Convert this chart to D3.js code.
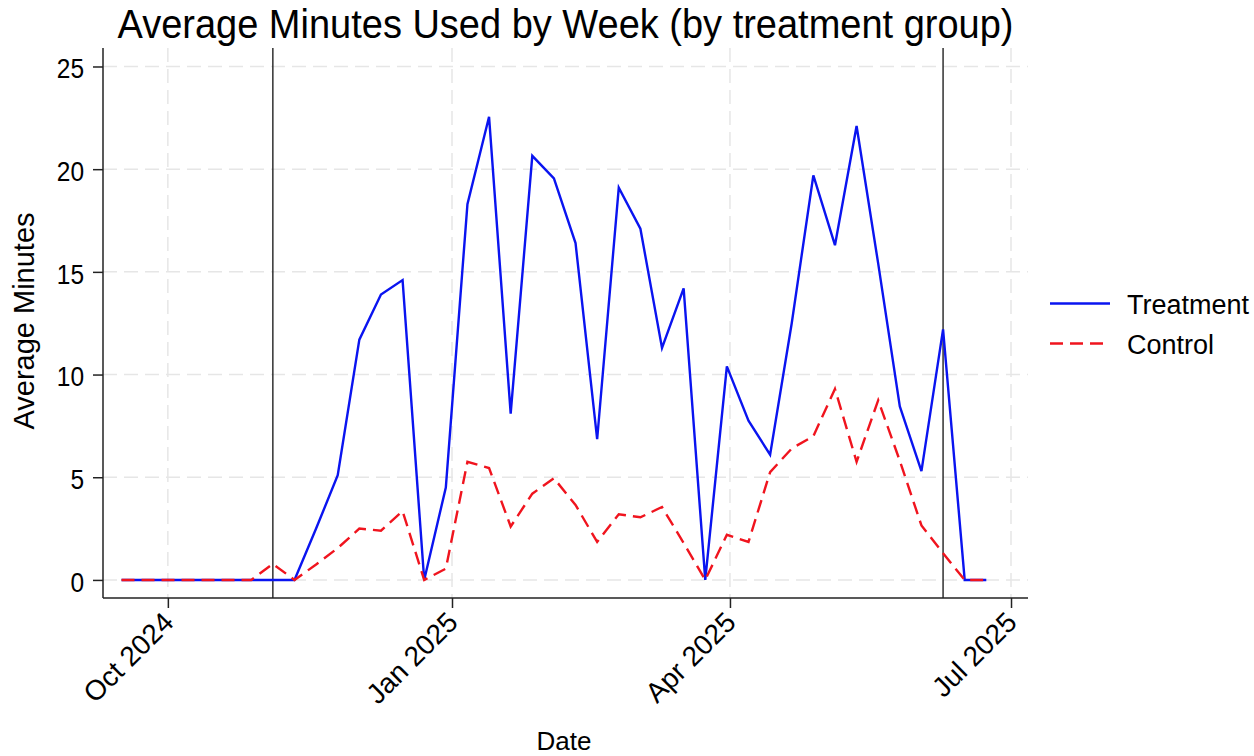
<!DOCTYPE html>
<html>
<head>
<meta charset="utf-8">
<script src="https://cdnjs.cloudflare.com/ajax/libs/d3/7.8.5/d3.min.js"></script>
<style>
  body { margin: 0; background: #fff; }
  text { font-family: "Liberation Sans", Arial, Helvetica, sans-serif; fill: #000; }
</style>
</head>
<body>
<div id="chart"></div>
<script>
'use strict';

// weekly dates
var weeks = [
  '2024-09-16', '2024-09-23', '2024-09-30', '2024-10-07', '2024-10-14', '2024-10-21', '2024-10-28',
  '2024-11-04', '2024-11-11', '2024-11-18', '2024-11-25', '2024-12-02', '2024-12-09', '2024-12-16',
  '2024-12-23', '2024-12-30', '2025-01-06', '2025-01-13', '2025-01-20', '2025-01-27', '2025-02-03',
  '2025-02-10', '2025-02-17', '2025-02-24', '2025-03-03', '2025-03-10', '2025-03-17', '2025-03-24',
  '2025-03-31', '2025-04-07', '2025-04-14', '2025-04-21', '2025-04-28', '2025-05-05', '2025-05-12',
  '2025-05-19', '2025-05-26', '2025-06-02', '2025-06-09', '2025-06-16', '2025-06-23'
];

var treatment = [
  0, 0, 0, 0, 0, 0, 0,
  0, 0, 2.5, 5.1, 11.7, 13.9, 14.6,
  0, 4.5, 18.3, 22.55, 8.1, 20.65, 19.55,
  16.4, 6.85, 19.1, 17.1, 11.3, 14.2, 0,
  10.4, 7.75, 6.1, 12.5, 19.7, 16.3, 22.1,
  15.4, 8.45, 5.3, 12.2, 0, 0
];

var control = [
  0, 0, 0, 0, 0, 0, 0,
  0.78, 0, 0.75, 1.55, 2.5, 2.4, 3.35,
  0, 0.55, 5.75, 5.45, 2.6, 4.2, 4.95,
  3.65, 1.85, 3.2, 3.05, 3.55, 1.8, 0,
  2.2, 1.85, 5.25, 6.4, 7.0, 9.3, 5.75,
  8.75, 5.8, 2.65, 1.3, 0, 0
];

var seriesNames = ['Treatment', 'Control'];
var markerDates = ['2024-11-04', '2025-06-09'];
var xTicks = ['2024-10-01', '2025-01-01', '2025-04-01', '2025-07-01'];
var yTicks = [0, 5, 10, 15, 20, 25];

var parse = d3.timeParse('%Y-%m-%d');
var W = 1254, H = 756;
var pl = 103, pr = 1028, pt = 48, pb = 598;
var squeeze = 0.86; // tick digits look narrower in the reference

var x = d3.scaleTime()
  .domain([new Date(2024, 8, 10), new Date(2025, 6, 6, 12)])
  .range([pl, pr]);
var y = d3.scaleLinear()
  .domain([-0.88, 25.9])
  .range([pb, pt]);

var svg = d3.select('#chart').append('svg')
  .attr('width', W)
  .attr('height', H);

// grid
var grid = svg.append('g').attr('class', 'grid');
grid.selectAll('line.h')
  .data(yTicks)
  .enter()
  .append('line')
  .attr('x1', pl).attr('x2', pr)
  .attr('y1', function (d) { return y(d); })
  .attr('y2', function (d) { return y(d); })
  .style('stroke', '#e6e6e6')
  .style('stroke-width', 1.5)
  .style('stroke-dasharray', '14,7');
grid.selectAll('line.v')
  .data(xTicks)
  .enter()
  .append('line')
  .attr('y1', pt).attr('y2', pb)
  .attr('x1', function (d) { return x(parse(d)); })
  .attr('x2', function (d) { return x(parse(d)); })
  .style('stroke', '#e6e6e6')
  .style('stroke-width', 1.5)
  .style('stroke-dasharray', '14,7');

// period markers
svg.selectAll('line.marker')
  .data(markerDates)
  .enter()
  .append('line')
  .attr('y1', pt).attr('y2', pb)
  .attr('x1', function (d) { return x(parse(d)); })
  .attr('x2', function (d) { return x(parse(d)); })
  .style('stroke', '#111')
  .style('stroke-width', 1.3);

// lines
var line = function (vals) {
  return d3.line()
    .x(function (d, i) { return x(parse(weeks[i])); })
    .y(function (d) { return y(d); })(vals);
};

svg.append('path')
  .attr('d', line(treatment))
  .style('fill', 'none')
  .style('stroke', '#0a14f0')
  .style('stroke-width', 2.4);

svg.append('path')
  .attr('d', line(control))
  .style('fill', 'none')
  .style('stroke', '#f0141e')
  .style('stroke-width', 2.4)
  .style('stroke-dasharray', '13,7');

// axes
var yAxis = svg.append('g')
  .attr('transform', 'translate(' + pl + ',0)')
  .call(d3.axisLeft(y).tickValues(yTicks).tickSize(10).tickPadding(9).tickSizeOuter(0));
yAxis.select('.domain').attr('d', 'M0,' + pt + 'V' + pb);
yAxis.selectAll('line').style('stroke', '#222').style('stroke-width', 1.5);
yAxis.select('.domain').style('stroke', '#222').style('stroke-width', 1.5);
yAxis.selectAll('text')
  .attr('x', -19 / squeeze)
  .attr('dy', '0.4em')
  .attr('transform', 'scale(' + squeeze + ',1)')
  .style('font-size', '28.5px')
  .style('font-family', '"Liberation Sans", Arial, sans-serif')
  .style('fill', '#000');

var xAxis = svg.append('g')
  .attr('transform', 'translate(0,' + pb + ')')
  .call(d3.axisBottom(x)
    .tickValues(xTicks.map(parse))
    .tickSize(10)
    .tickSizeOuter(0)
    .tickFormat(d3.timeFormat('%b %Y')));
xAxis.select('.domain').attr('d', 'M' + pl + ',0H' + pr);
xAxis.selectAll('line').style('stroke', '#222').style('stroke-width', 1.5);
xAxis.select('.domain').style('stroke', '#222').style('stroke-width', 1.5);
xAxis.selectAll('text')
  .attr('x', 0)
  .attr('y', 0)
  .attr('dy', 0)
  .attr('transform', 'translate(7,26) rotate(-45)')
  .style('text-anchor', 'end')
  .style('font-size', '28px')
  .style('font-family', '"Liberation Sans", Arial, sans-serif')
  .style('fill', '#000');

// titles
svg.append('text')
  .attr('transform', 'translate(' + (pl + pr) / 2 + ',38) scale(0.95,1)')
  .attr('text-anchor', 'middle')
  .style('font-size', '40px')
  .text('Average Minutes Used by Week (by treatment group)');

svg.append('text')
  .attr('x', 564)
  .attr('y', 750)
  .attr('text-anchor', 'middle')
  .style('font-size', '26px')
  .text('Date');

svg.append('text')
  .attr('transform', 'translate(34,321) rotate(-90)')
  .attr('text-anchor', 'middle')
  .style('font-size', '29px')
  .text('Average Minutes');

// legend
var legend = svg.append('g').attr('class', 'legend');
var legItem = legend.selectAll('g')
  .data(seriesNames)
  .enter()
  .append('g')
  .attr('transform', function (d, i) { return 'translate(1050,' + (303.5 + i * 40) + ')'; });
legItem.append('line')
  .attr('x1', 0).attr('x2', 60)
  .style('stroke', function (d, i) { return i ? '#f0141e' : '#0a14f0'; })
  .style('stroke-width', 2.4)
  .style('stroke-dasharray', function (d, i) { return i ? '13,7' : null; });
legItem.append('text')
  .attr('x', 77)
  .attr('y', 10)
  .style('font-size', '27px')
  .text(function (d) { return d; });
</script>
</body>
</html>
